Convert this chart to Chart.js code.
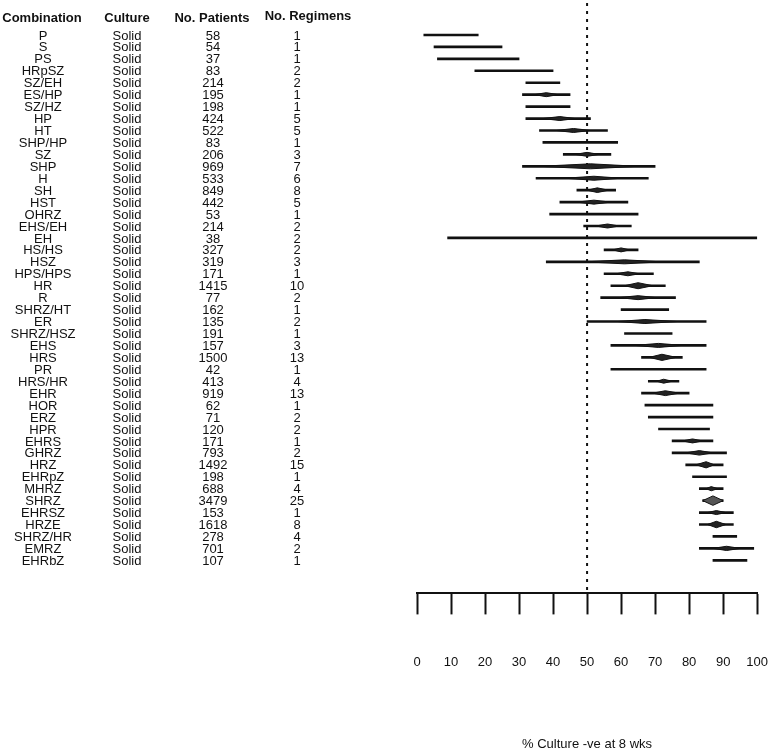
<!DOCTYPE html>
<html>
<head>
<meta charset="utf-8">
<script src="https://cdn.jsdelivr.net/npm/chart.js@4"></script>
<style>
  body { margin: 0; background: #fff; }
  #wrap { width: 771px; height: 752px; position: relative; }
</style>
</head>
<body>
<div id="wrap"><canvas id="forest"></canvas></div>
<script>
const combos = ["P","S","PS","HRpSZ","SZ/EH","ES/HP","SZ/HZ","HP","HT","SHP/HP","SZ","SHP","H","SH","HST",
  "OHRZ","EHS/EH","EH","HS/HS","HSZ","HPS/HPS","HR","R","SHRZ/HT","ER","SHRZ/HSZ","EHS","HRS","PR","HRS/HR",
  "EHR","HOR","ERZ","HPR","EHRS","GHRZ","HRZ","EHRpZ","MHRZ","SHRZ","EHRSZ","HRZE","SHRZ/HR","EMRZ","EHRbZ"];
const culture = combos.map(() => "Solid");
const patients = [58,54,37,83,214,195,198,424,522,83,206,969,533,849,442,
  53,214,38,327,319,171,1415,77,162,135,191,157,1500,42,413,
  919,62,71,120,171,793,1492,198,688,3479,153,1618,278,701,107];
const regimens = [1,1,1,2,2,1,1,5,5,1,3,7,6,8,5,
  1,2,2,2,3,1,10,2,1,2,1,3,13,1,4,
  13,1,2,2,1,2,15,1,4,25,1,8,4,2,1];

// whole interval (thin line)
const lineLo = [2,5,6,17,32,31,32,32,36,37,43,31,35,47,42,
  39,49,9,55,38,55,57,54,60,50,61,57,66,57,68,
  66,67,68,71,75,75,79,81,83,84,83,83,87,83,87];
const lineHi = [18,25,30,40,42,45,45,51,56,59,57,70,68,58.4,62,
  65,63,100,65,83,69.5,73,76,74,85,75,85,78,85,77,
  80,87,87,86,87,91,90,91,90,90,93,93,94,99,97];

// pooled estimate (diamond), null where none drawn
const estLo = [null,null,null,null,null,34.5,null,37,41,null,46.5,36,43.5,50,47,
  null,52.5,null,57.5,49.5,58.5,61,59.5,null,59,null,64,68.3,null,70.5,
  69.3,null,null,null,78,79,82,null,85,84,85.4,85.4,null,87,null];
const estMid = [null,null,null,null,null,38,null,42,46,null,50,51,52,53,52,
  null,56,null,60,61,62,65,65,null,67,null,71,72,null,72.5,
  73,null,null,null,81,83,85,null,86.5,87,88,88,null,91,null];
const estHi = [null,null,null,null,null,41.5,null,46.5,51,null,53.5,65,60,56.3,57,
  null,59.5,null,62.5,72,65.4,69.3,70.3,null,76.5,null,78,76.2,null,75,
  77.1,null,null,null,84,87,87.4,null,88.4,90,90.8,90.8,null,95,null];

const xTicks = [0,10,20,30,40,50,60,70,80,90,100];

const ink = "#111";
const font = "Liberation Sans, Arial, sans-serif";

const datasets = [{
  type: "bar",
  indexAxis: "y",
  data: combos.map((c, i) => ({ y: i, x: [lineLo[i], lineHi[i]] })),
  backgroundColor: ink,
  barThickness: 2,
  order: 2
}];

combos.forEach((c, i) => {
  if (estMid[i] === null) return;
  const h = Math.max(2, 0.08 * Math.sqrt(patients[i])) / 11.93;
  datasets.push({
    type: "line",
    data: [
      { x: estLo[i], y: i },
      { x: estMid[i], y: i - h },
      { x: estHi[i], y: i },
      { x: estMid[i], y: i + h },
      { x: estLo[i], y: i }
    ],
    borderColor: ink,
    borderWidth: 1,
    backgroundColor: patients[i] > 3000 ? "#555" : "#222",
    fill: "shape",
    pointRadius: 0,
    tension: 0,
    order: 1
  });
});

const tablePlugin = {
  id: "table",
  beforeDatasetsDraw(chart) {
    const c = chart.ctx, xs = chart.scales.x;
    const x50 = xs.getPixelForValue(50);
    c.save();
    c.strokeStyle = ink;
    c.lineWidth = 2;
    c.setLineDash([3, 5]);
    c.beginPath();
    c.moveTo(x50, 3);
    c.lineTo(x50, chart.chartArea.bottom);
    c.stroke();
    c.restore();
  },
  afterDraw(chart) {
    const c = chart.ctx, ys = chart.scales.y;
    c.save();
    c.fillStyle = ink;
    c.textAlign = "center";
    c.textBaseline = "middle";
    c.font = "bold 13px " + font;
    c.fillText("Combination", 42, 18);
    c.fillText("Culture", 127, 18);
    c.fillText("No. Patients", 212, 18);
    c.fillText("No. Regimens", 308, 16);
    c.font = "13px " + font;
    combos.forEach((name, i) => {
      const y = ys.getPixelForValue(i) + 1;
      c.fillText(name, 43, y);
      c.fillText(culture[i], 127, y);
      c.fillText(String(patients[i]), 213, y);
      c.fillText(String(regimens[i]), 297, y);
    });
    c.restore();
  }
};

new Chart(document.getElementById("forest"), {
  data: { datasets: datasets },
  options: {
    responsive: true,
    maintainAspectRatio: false,
    animation: false,
    layout: { padding: { left: 417, right: 13, top: 29, bottom: 0 } },
    plugins: { legend: { display: false }, tooltip: { enabled: false } },
    scales: {
      x: {
        type: "linear",
        position: "bottom",
        min: 0,
        max: 100,
        afterBuildTicks: (axis) => { axis.ticks = xTicks.map(v => ({ value: v })); },
        border: { display: true, color: ink, width: 2 },
        grid: { drawOnChartArea: false, drawTicks: true, tickLength: 21, tickWidth: 2, tickColor: ink },
        ticks: { padding: 3, color: ink, maxRotation: 0, font: { family: font, size: 13, lineHeight: "90px" } },
        title: {
          display: true,
          text: "% Culture -ve at 8 wks",
          color: ink,
          font: { family: font, size: 13 },
          padding: { top: 26, bottom: 0 }
        }
      },
      y: {
        type: "linear",
        reverse: true,
        offset: false,
        min: -0.5,
        max: 46.77,
        display: false
      }
    }
  },
  plugins: [tablePlugin]
});
</script>
</body>
</html>
